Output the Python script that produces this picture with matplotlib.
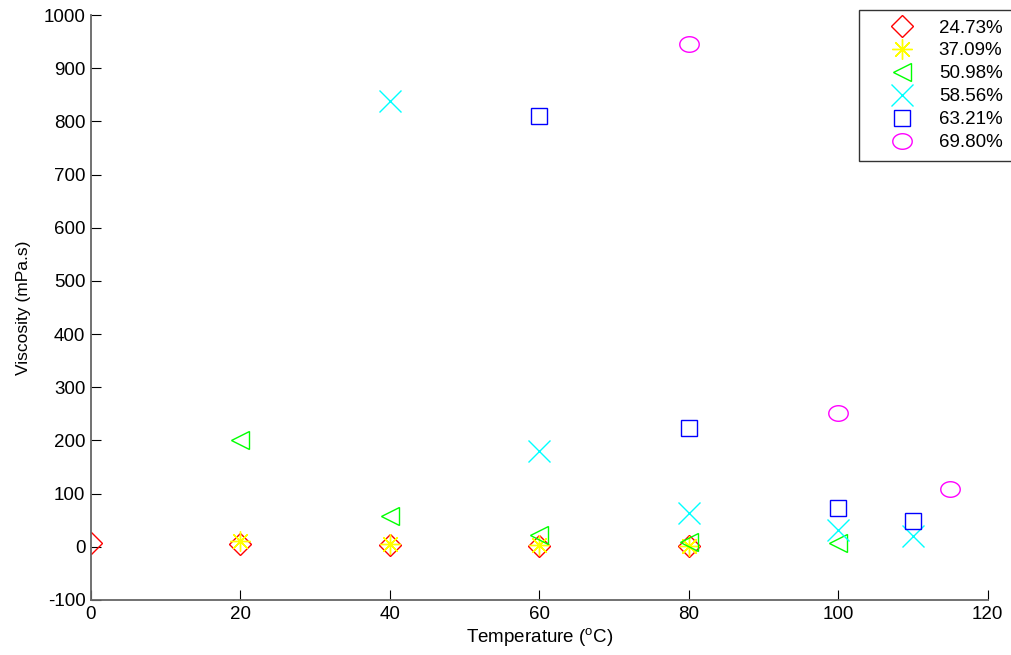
import numpy as np
import matplotlib
matplotlib.use("Agg")
import matplotlib.pyplot as plt
from matplotlib.path import Path

plt.rcParams['font.family'] = ['Liberation Sans', 'DejaVu Sans']
plt.rcParams['mathtext.fontset'] = 'custom'
plt.rcParams['mathtext.rm'] = 'Liberation Sans'
plt.rcParams['font.size'] = 13.5
plt.rcParams['axes.unicode_minus'] = False

# viscosity readings per concentration (temperature in C, viscosity in mPa.s)
t_2473 = [0, 20, 40, 60, 80]
v_2473 = [8, 5, 3, 2, 1]

t_3709 = [20, 40, 60, 80]
v_3709 = [11, 5, 4, 2]

t_5098 = [20, 40, 60, 80, 100]
v_5098 = [200, 58, 23, 9, 7]

t_5856 = [40, 60, 80, 100, 110]
v_5856 = [838, 181, 63, 31, 21]

t_6321 = [60, 80, 100, 110]
v_6321 = [811, 224, 73, 49]

t_6980 = [80, 100, 115]
v_6980 = [945, 252, 109]

labels = ['24.73%', '37.09%', '50.98%', '58.56%', '63.21%', '69.80%']

# slightly squashed circle, like the old matlab 'o' marker
th = np.linspace(0, 2 * np.pi, 60)
ellipse = Path(np.column_stack([np.cos(th), 0.8 * np.sin(th)]), closed=True)

fig = plt.figure(figsize=(10.12, 6.55), dpi=100)
ax = fig.add_axes([0.0899, 0.084, 0.886, 0.893])

ax.plot(t_2473, v_2473, 'D', mfc='none', mec='red', ms=11.5, mew=1, label=labels[0])
ax.plot(t_3709, v_3709, marker=(8, 2, 0), ls='none', mec='yellow', ms=14.5, mew=1, label=labels[1])
ax.plot(t_5098, v_5098, '<', mfc='none', mec='lime', ms=13, mew=1, label=labels[2])
ax.plot(t_5856, v_5856, 'x', mfc='none', mec='cyan', ms=16, mew=1, label=labels[3])
ax.plot(t_6321, v_6321, 's', mfc='none', mec='blue', ms=11.5, mew=1, label=labels[4])
ax.plot(t_6980, v_6980, marker=ellipse, ls='none', mfc='none', mec='magenta', ms=14, mew=1, label=labels[5])

ax.set_xlim(0, 120)
ax.set_ylim(-100, 1000)
ax.set_xticks(np.arange(0, 121, 20))
ax.set_yticks(np.arange(-100, 1001, 100))

for s in ['top', 'right']:
    ax.spines[s].set_visible(False)
for s in ['left', 'bottom']:
    ax.spines[s].set_color('#666666')
    ax.spines[s].set_linewidth(1.3)
ax.tick_params(direction='in', length=7, width=0.8, color='black', pad=4)

ax.set_xlabel('Temperature ($^{\\rm o}$C)', labelpad=3)
ax.set_ylabel('Viscosity (mPa.s)', labelpad=9, fontsize=12.5)

leg = ax.legend(loc='upper right', bbox_to_anchor=(1.0377, 1.0246), frameon=True,
                fancybox=False, edgecolor='black', borderpad=0.5,
                handletextpad=0.18, labelspacing=0.31, handlelength=3.58)
leg.get_frame().set_linewidth(1.0)

fig.savefig('out.png', dpi=100)
